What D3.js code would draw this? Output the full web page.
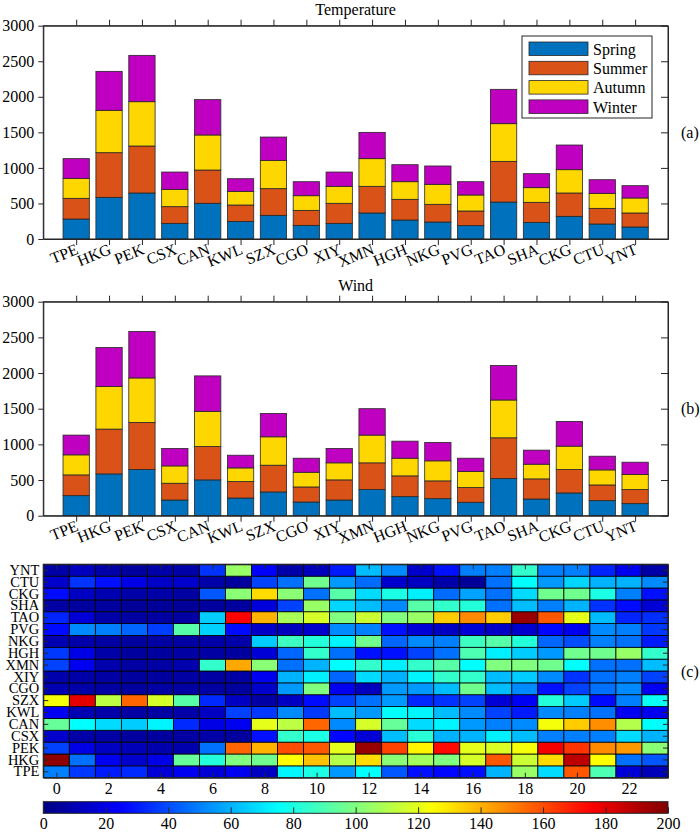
<!DOCTYPE html>
<html>
<head>
<meta charset="utf-8">
<script src="https://cdn.jsdelivr.net/npm/d3@7"></script>
<style>
body{margin:0;background:#fff}
svg{display:block;font-family:"Liberation Serif","Times New Roman",serif}
svg text{font-family:"Liberation Serif","Times New Roman",serif}
</style>
</head>
<body>
<svg id="chart" width="700" height="834"></svg>
<script>
// airports in axis order
const airports=["TPE","HKG","PEK","CSX","CAN","KWL","SZX","CGO","XIY","XMN","HGH","NKG","PVG","TAO","SHA","CKG","CTU","YNT"]
const seasons=["Spring","Summer","Autumn","Winter"]
const seasonColors=["#0072bd","#d95319","#ffd700","#c000c0"]

// seasonal counts (temperature)
const spring=[281,586,647,220,502,248,333,192,220,366,267,239,188,520,234,319,211,169]
const summer=[291,628,661,235,468,230,375,211,282,375,291,249,206,572,282,328,220,197]
const autumn=[281,596,623,243,493,192,398,206,239,389,248,281,225,530,206,328,211,211]
const winter=[277,548,652,244,497,178,328,197,201,370,239,258,187,483,197,347,192,173]

// wind panel shows the same counts in the figure
const windSpring=[281,586,647,220,502,248,333,192,220,366,267,239,188,520,234,319,211,169]
const windSummer=[291,628,661,235,468,230,375,211,282,375,291,249,206,572,282,328,220,197]
const windAutumn=[281,596,623,243,493,192,398,206,239,389,248,281,225,530,206,328,211,211]
const windWinter=[277,548,652,244,497,178,328,197,201,370,239,258,187,483,197,347,192,173]

const yTicks=[0,500,1000,1500,2000,2500,3000]
const hours=d3.range(24)
const hourTicks=[0,2,4,6,8,10,12,14,16,18,20,22]
const cbTicks=[0,20,40,60,80,100,120,140,160,180,200]

// hourly values per airport (same order as airports)
const hourly={
TPE:[50,36,30,33,17,22,17,22,13,73,80,55,75,42,28,26,28,60,105,68,158,90,17,11],
HKG:[197,47,22,15,20,95,82,100,97,125,137,110,132,102,107,100,117,158,115,132,188,125,47,42],
PEK:[38,20,13,11,9,9,47,155,140,160,158,120,195,162,127,173,120,118,123,177,165,148,145,102],
CSX:[15,8,7,6,6,7,8,6,28,85,80,26,17,62,83,60,60,72,62,50,50,50,68,60],
CAN:[95,75,68,65,73,33,20,22,120,112,155,52,117,95,68,73,55,50,52,123,135,147,110,75],
KWL:[23,10,8,7,7,8,13,38,36,52,36,62,55,75,73,62,52,38,30,52,50,47,22,22],
SZX:[123,180,112,155,117,92,33,13,7,13,27,38,47,55,33,35,38,17,23,82,65,27,50,77],
CGO:[10,8,7,6,7,7,7,6,15,55,100,22,12,55,55,62,97,62,52,28,38,47,52,22],
XIY:[9,8,7,6,6,7,7,7,22,60,72,45,68,60,73,85,85,62,65,52,35,47,50,38],
XMN:[38,22,9,7,7,9,85,142,102,47,60,75,85,72,85,92,75,100,100,97,75,47,47,62],
HGH:[36,20,8,6,6,7,7,6,17,45,85,47,28,28,38,47,90,72,65,55,97,97,105,85],
NKG:[10,8,7,6,7,7,8,8,65,87,82,73,97,45,52,50,87,92,82,45,40,50,47,30],
PVG:[27,52,50,45,37,92,66,27,14,12,15,52,50,28,17,13,17,14,15,26,22,52,50,36],
TAO:[32,17,8,7,7,7,65,175,140,108,117,100,115,100,105,135,148,135,195,158,120,62,32,34],
SHA:[7,6,6,5,5,5,6,6,18,38,105,67,62,52,92,85,82,47,62,50,60,35,27,17],
CKG:[27,13,10,8,8,7,42,102,132,102,47,92,68,80,72,46,57,47,68,97,97,80,50,28],
CTU:[15,35,28,20,14,15,8,6,38,47,97,55,46,15,13,8,5,47,75,55,67,60,60,52],
YNT:[8,12,8,6,8,8,35,105,25,8,12,30,62,52,15,28,50,50,85,50,50,32,22,8]
}

const svg=d3.select("#chart")
const ink="#262626"
const left=43.3,right=668

function jet(t){
let c=v=>Math.max(0,Math.min(1,v))
let r=c(1.5-Math.abs(4*t-3)),g=c(1.5-Math.abs(4*t-2)),b=c(1.5-Math.abs(4*t-1))
return d3.rgb(r*255,g*255,b*255).toString()
}

// d3 axes put sans-serif on their group, drop it
function plain(sel){
sel.attr("font-family",null).attr("font-size",null)
sel.selectAll("text").attr("font-size",16).attr("fill","#000")
sel.select(".domain").attr("stroke",ink)
sel.selectAll(".tick line").attr("stroke",ink)
return sel
}

function drawBars(top,bottom,cols,title,tag,withLegend){
let g=svg.append("g")
let x=d3.scaleLinear().domain([0,19]).range([left,right])
let y=d3.scaleLinear().domain([0,3000]).range([bottom,top])

let rows=airports.map((a,i)=>{
let o={name:a,pos:i+1}
seasons.forEach((s,k)=>o[s]=cols[k][i])
return o
})
let stack=d3.stack().keys(seasons)(rows)

g.selectAll("g.layer").data(stack).enter().append("g")
.attr("fill",(d,i)=>seasonColors[i])
.selectAll("rect").data(d=>d).enter().append("rect")
.attr("x",d=>x(d.data.pos-0.4))
.attr("width",x(0.8)-x(0))
.attr("y",d=>y(d[1]))
.attr("height",d=>y(d[0])-y(d[1]))
.attr("stroke",ink).attr("stroke-width",0.8)

// frame
g.append("rect").attr("x",left).attr("y",top)
.attr("width",right-left).attr("height",bottom-top)
.attr("fill","none").attr("stroke",ink).attr("stroke-width",1)

g.append("g").attr("transform","translate("+left+",0)")
.call(d3.axisLeft(y).tickValues(yTicks).tickSize(5).tickSizeOuter(0).tickPadding(4).tickFormat(d3.format("d")))
.call(plain)

g.append("g").attr("transform","translate("+right+",0)")
.call(d3.axisLeft(y).tickValues(yTicks).tickSize(7).tickSizeOuter(0).tickFormat(""))
.call(plain)

g.append("g").attr("transform","translate(0,"+top+")")
.call(d3.axisTop(x).tickValues(d3.range(1,19)).tickSize(6).tickSizeOuter(0).tickFormat(""))
.call(plain)

g.append("g").attr("transform","translate(0,"+bottom+")")
.call(d3.axisBottom(x).tickValues(d3.range(1,19)).tickSize(6).tickSizeOuter(0).tickFormat(""))
.call(plain)

g.selectAll("text.xl").data(airports).enter().append("text")
.attr("class","xl")
.attr("transform",(d,i)=>"translate("+(x(i+1)-1)+","+(bottom+4)+") rotate(-22)")
.attr("dy","0.7em").attr("text-anchor","end")
.attr("font-size",16).text(d=>d)

g.append("text").attr("x",(left+right)/2).attr("y",top-11)
.attr("text-anchor","middle").attr("font-size",16).text(title)

g.append("text").attr("x",681).attr("y",(top+bottom)/2)
.attr("dy","0.35em").attr("font-size",16).text(tag)

if(withLegend){
let lg=g.append("g")
lg.append("rect").attr("x",522).attr("y",36).attr("width",130).attr("height",82)
.attr("fill","#fff").attr("stroke",ink).attr("stroke-width",1)
seasons.forEach((s,k)=>{
let yy=42+k*19.3
lg.append("rect").attr("x",529).attr("y",yy).attr("width",59).attr("height",13.5)
.attr("fill",seasonColors[k]).attr("stroke",ink).attr("stroke-width",0.8)
lg.append("text").attr("x",593).attr("y",yy+7).attr("dy","0.35em")
.attr("font-size",16).text(s)
})
}
}

drawBars(25.7,239,[spring,summer,autumn,winter],"Temperature","(a)",true)
drawBars(301.7,515.7,[windSpring,windSummer,windAutumn,windWinter],"Wind","(b)",false)

// heatmap
const hTop=564.3,hBottom=777.7
const color=d3.scaleSequential(jet).domain([0,200])
const hx=d3.scaleLinear().domain([-0.5,23.5]).range([left,right])
const hy=d3.scaleBand().domain(airports.slice().reverse()).range([hTop,hBottom])

const cells=[]
airports.forEach(a=>hours.forEach(h=>cells.push({a,h,v:hourly[a][h]})))

const hm=svg.append("g")
hm.selectAll("rect.cell").data(cells).enter().append("rect")
.attr("class","cell")
.attr("x",d=>hx(d.h-0.5)).attr("width",hx(1)-hx(0))
.attr("y",d=>hy(d.a)).attr("height",hy.bandwidth())
.attr("fill",d=>color(d.v))
.attr("stroke","#000").attr("stroke-width",0.8)

hm.append("rect").attr("x",left).attr("y",hTop)
.attr("width",right-left).attr("height",hBottom-hTop)
.attr("fill","none").attr("stroke",ink).attr("stroke-width",1)

hm.append("g").attr("transform","translate("+left+",0)")
.call(d3.axisLeft(hy).tickSize(-5).tickSizeOuter(0).tickPadding(5))
.call(plain)
.selectAll("text").attr("font-size",14.5).attr("x",-4)
hm.append("g").attr("transform","translate("+right+",0)")
.call(d3.axisRight(hy).tickSize(-5).tickSizeOuter(0).tickFormat(""))
.call(plain)
hm.append("g").attr("transform","translate(0,"+hTop+")")
.call(d3.axisTop(hx).tickValues(hourTicks).tickSize(-5).tickSizeOuter(0).tickFormat(""))
.call(plain)
hm.append("g").attr("transform","translate(0,"+hBottom+")")
.call(d3.axisBottom(hx).tickValues(hourTicks).tickSize(-5).tickSizeOuter(0))
.call(plain)
.selectAll("text").attr("y",5).attr("dy","0.71em")

hm.append("text").attr("x",681).attr("y",(hTop+hBottom)/2)
.attr("dy","0.35em").attr("font-size",16).text("(c)")

// colorbar
const cbTop=801.7,cbBottom=813.3
const cx=d3.scaleLinear().domain([0,200]).range([left,right])
const grad=svg.append("defs").append("linearGradient").attr("id","jetgrad")
d3.range(0,1.0001,0.02).forEach(t=>{
grad.append("stop").attr("offset",(t*100)+"%").attr("stop-color",jet(t))
})
svg.append("rect").attr("x",left).attr("y",cbTop)
.attr("width",right-left).attr("height",cbBottom-cbTop)
.attr("fill","url(#jetgrad)").attr("stroke",ink).attr("stroke-width",1)
let cb=svg.append("g").attr("transform","translate(0,"+cbBottom+")")
.call(d3.axisBottom(cx).tickValues(cbTicks).tickSize(-6).tickSizeOuter(0))
.call(plain)
cb.select(".domain").remove()
cb.selectAll("text").attr("y",4).attr("dy","0.71em")
</script>
</body>
</html>
